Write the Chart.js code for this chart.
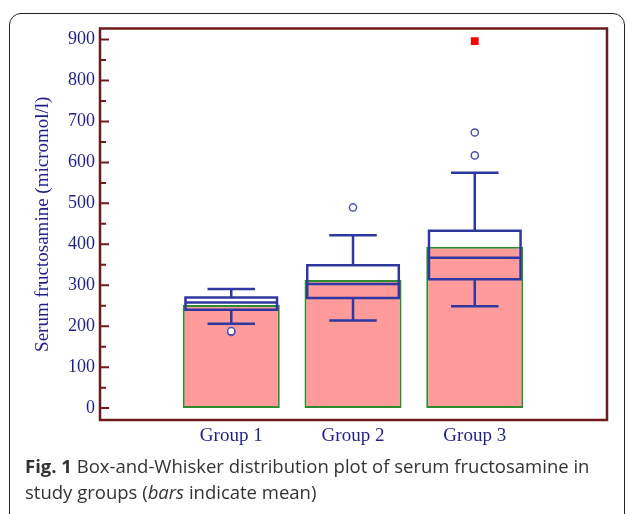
<!DOCTYPE html>
<html><head><meta charset="utf-8">
<script src="https://cdn.jsdelivr.net/npm/chart.js@4.4.0/dist/chart.umd.min.js"></script>
<style>
html,body{margin:0;padding:0;background:#fff;width:627px;height:514px;overflow:hidden;}
#card{position:absolute;left:9px;top:13px;width:616px;height:540px;border:1.5px solid #222;border-radius:12px;box-sizing:border-box;}
#wrap{position:absolute;left:0;top:0;width:627px;height:460px;}
#cap{position:absolute;left:25px;top:452.5px;font-family:"Open Sans";font-size:18.5px;line-height:26.5px;color:#333;white-space:nowrap;}
</style></head>
<body>
<div id="card"></div>
<div id="wrap"><canvas id="c"></canvas></div>
<div id="cap"><b>Fig. 1</b> Box-and-Whisker distribution plot of serum fructosamine in<br>study groups (<i>bars</i> indicate mean)</div>
<script>
// ---- data ----
const groups = ['Group 1', 'Group 2', 'Group 3'];
const groupPos = [1, 2, 3];
const means = [252, 313, 394];
const q1 = [240, 269, 315];
const medians = [258, 303, 367];
const q3 = [270, 349, 433];
const whiskerLow = [206, 214, 249];
const whiskerHigh = [291, 422, 575];
const outlierGroup = [1, 1, 2, 3, 3];
const outlierValues = [186, 188, 490, 617, 673];
const farOutGroup = [3];
const farOutValues = [896];
const yTicks = [0, 100, 200, 300, 400, 500, 600, 700, 800, 900];
const yMinorTicks = [50, 150, 250, 350, 450, 550, 650, 750, 850];

// ---- styles ----
const NAVY = '#1f1f8c';
const BOX = '#2f38a0';
const FRAME = '#6e1a1a';
const serif = 'Liberation Serif';

const boxPlugin = {
  id: 'boxes',
  afterDatasetDraw(chart, args) {
    if (args.meta.type !== 'bar') return;
    const ctx = chart.ctx, xs = chart.scales.x, ys = chart.scales.y;
    const unit = xs.getPixelForValue(2) - xs.getPixelForValue(1);
    const hw = unit * 0.376, cw = unit * 0.195;
    ctx.save();
    ctx.strokeStyle = BOX;
    ctx.lineWidth = 2.5;
    groupPos.forEach((g, i) => {
      const cx = xs.getPixelForValue(g);
      const yq1 = ys.getPixelForValue(q1[i]);
      const yq3 = ys.getPixelForValue(q3[i]);
      const ym = ys.getPixelForValue(medians[i]);
      const ylo = ys.getPixelForValue(whiskerLow[i]);
      const yhi = ys.getPixelForValue(whiskerHigh[i]);
      ctx.beginPath();
      ctx.rect(cx - hw, yq3, 2 * hw, yq1 - yq3);
      ctx.moveTo(cx - hw, ym); ctx.lineTo(cx + hw, ym);
      ctx.moveTo(cx, yq3); ctx.lineTo(cx, yhi);
      ctx.moveTo(cx - cw, yhi); ctx.lineTo(cx + cw, yhi);
      ctx.moveTo(cx, yq1); ctx.lineTo(cx, ylo);
      ctx.moveTo(cx - cw, ylo); ctx.lineTo(cx + cw, ylo);
      ctx.stroke();
    });
    ctx.restore();
  },
  afterDraw(chart) {
    const ctx = chart.ctx, a = chart.chartArea, ys = chart.scales.y;
    ctx.save();
    ctx.strokeStyle = FRAME;
    ctx.lineWidth = 2.5;
    ctx.strokeRect(a.left, a.top, a.right - a.left, a.bottom - a.top);
    ctx.lineWidth = 2;
    ctx.beginPath();
    yTicks.forEach(v => { const y = ys.getPixelForValue(v); ctx.moveTo(a.left, y); ctx.lineTo(a.left + 9, y); });
    yMinorTicks.forEach(v => { const y = ys.getPixelForValue(v); ctx.moveTo(a.left, y); ctx.lineTo(a.left + 6, y); });
    ctx.stroke();
    ctx.restore();
  }
};

new Chart(document.getElementById('c'), {
  type: 'bar',
  data: {
    datasets: [
      {
        type: 'scatter', order: 0,
        data: outlierGroup.map((g, i) => ({x: g, y: outlierValues[i]})),
        pointStyle: 'circle', pointRadius: 3.6, pointBorderWidth: 1.5,
        pointBackgroundColor: '#ffffff', pointBorderColor: '#4a52b8'
      },
      {
        type: 'scatter', order: 0,
        data: farOutGroup.map((g, i) => ({x: g, y: farOutValues[i]})),
        pointStyle: 'rect', pointRadius: 5.5, pointBorderWidth: 0,
        pointBackgroundColor: '#ff0000', pointBorderColor: '#ff0000'
      },
      {
        type: 'bar', order: 2,
        data: groupPos.map((g, i) => ({x: g, y: means[i]})),
        backgroundColor: '#ff9b9b', borderColor: '#2e8b2e', borderWidth: 2,
        borderSkipped: false, categoryPercentage: 1, barPercentage: 0.797, grouped: false
      }
    ]
  },
  options: {
    responsive: true, maintainAspectRatio: false, animation: false,
    layout: {padding: {left: 0, top: 28.5, right: 20, bottom: 0}},
    plugins: {legend: {display: false}, tooltip: {enabled: false}},
    scales: {
      x: {
        type: 'linear', min: -0.078, max: 4.086, offset: false,
        afterBuildTicks: s => { s.ticks = groupPos.map(v => ({value: v})); },
        afterFit: s => { s.height = 40; },
        grid: {display: false, drawTicks: false, offset: false}, border: {display: false},
        ticks: {padding: 5, color: NAVY, font: {family: serif, size: 19},
          callback: v => groups[groupPos.indexOf(v)] || ''}
      },
      y: {
        type: 'linear', min: -29, max: 927,
        afterBuildTicks: s => { s.ticks = yTicks.map(v => ({value: v})); },
        afterFit: s => { s.width = 100; },
        grid: {display: false, drawTicks: false}, border: {display: false},
        ticks: {padding: 5, color: NAVY, font: {family: serif, size: 18}},
        title: {display: true, text: 'Serum fructosamine (micromol/l)', color: NAVY,
          font: {family: serif, size: 19}, padding: {top: 32, bottom: 0}}
      }
    }
  },
  plugins: [boxPlugin]
});
</script>
</body></html>
